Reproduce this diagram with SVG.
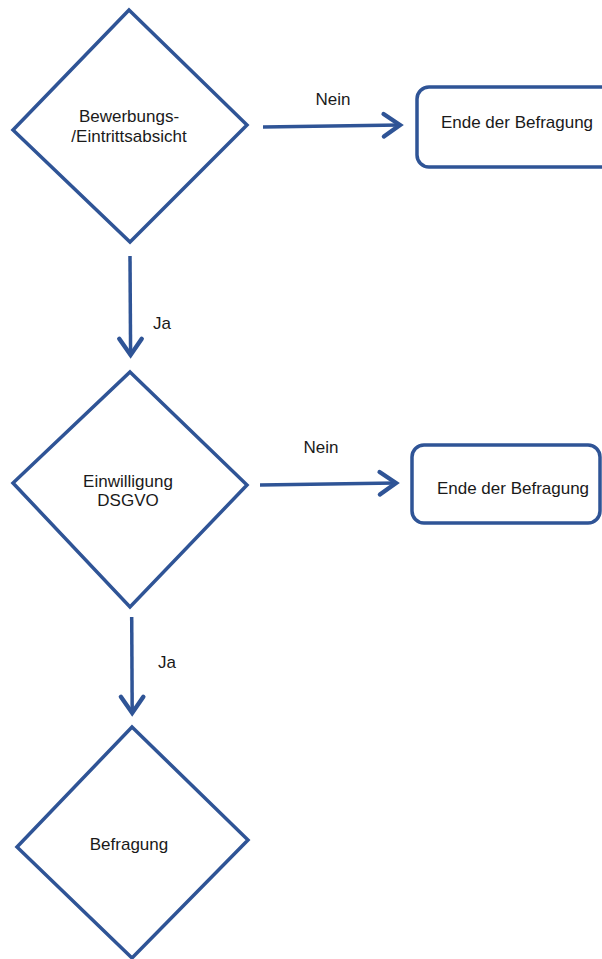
<svg xmlns="http://www.w3.org/2000/svg" width="602" height="959" viewBox="0 0 602 959">
<defs>
<style>
.shape{fill:#ffffff;stroke:#2F5496;stroke-width:3.5;stroke-linejoin:miter}
.conn{fill:none;stroke:#2F5496;stroke-width:3.5}
text{font-family:"Liberation Sans",Arial,sans-serif;font-size:17px;fill:#1a1a1a}
.c{text-anchor:middle}
</style>
<marker id="arr" markerUnits="userSpaceOnUse" markerWidth="30" markerHeight="30" viewBox="-16 -12 20 24" refX="0" refY="0" orient="auto">
<polyline points="-13,-9 0,0 -13,9" fill="none" stroke="#2F5496" stroke-width="3.5" stroke-linecap="round" stroke-linejoin="miter"/>
</marker>
</defs>
<rect width="602" height="959" fill="#ffffff"/>
<g id="connectors">
<line class="conn" x1="263" y1="127" x2="400" y2="125" marker-end="url(#arr)"/>
<text class="c" x="333" y="105">Nein</text>
<line class="conn" x1="130" y1="256" x2="130.6" y2="355" marker-end="url(#arr)"/>
<text x="153" y="329">Ja</text>
<line class="conn" x1="260" y1="485" x2="396" y2="483" marker-end="url(#arr)"/>
<text class="c" x="321" y="453">Nein</text>
<line class="conn" x1="131.7" y1="617" x2="132.2" y2="713" marker-end="url(#arr)"/>
<text x="158" y="668">Ja</text>
</g>
<g id="d1">
<polygon class="shape" points="129,10 247,125 130,242 13,130"/>
<text class="c" x="129" y="122">Bewerbungs-</text>
<text class="c" x="129" y="142">/Eintrittsabsicht</text>
</g>
<g id="end1">
<rect class="shape" x="417" y="87" width="200" height="80" rx="12"/>
<text class="c" x="517" y="128">Ende der Befragung</text>
</g>
<g id="d2">
<polygon class="shape" points="130,372 247,485 130,607 13,483"/>
<text class="c" x="128" y="487">Einwilligung</text>
<text class="c" x="128" y="506">DSGVO</text>
</g>
<g id="end2">
<rect class="shape" x="412" y="445" width="188" height="78" rx="12"/>
<text class="c" x="513" y="494">Ende der Befragung</text>
</g>
<g id="d3">
<polygon class="shape" points="132,727 248,840 132,958 17,847"/>
<text class="c" x="129" y="850">Befragung</text>
</g>
</svg>
